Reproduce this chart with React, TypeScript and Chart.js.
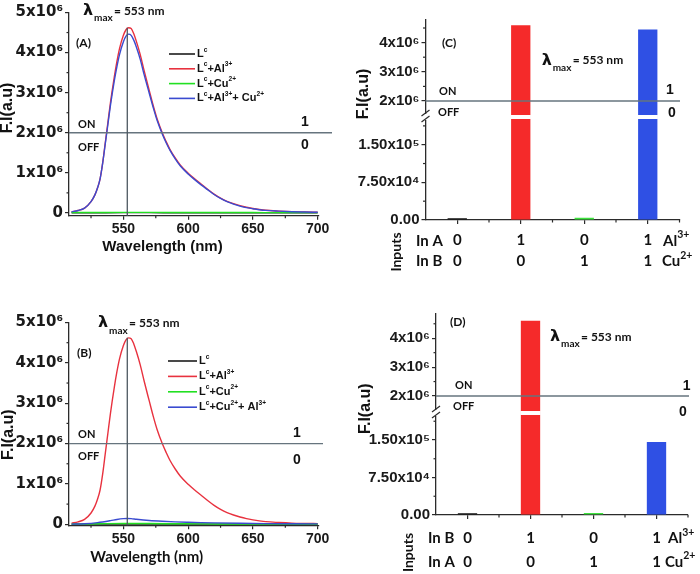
import React, { useEffect, useRef } from 'react';
import { Chart, registerables } from 'chart.js';

Chart.register(...registerables);

const M = 1e6;

// ---------- Panels (A) / (B): emission spectra (intensity in units of 10^6) ----------
const wavelengths = [510, 515, 520, 525, 528, 530, 532, 534, 536, 538, 540, 543, 545, 547, 550, 552, 554, 556, 558, 560, 563, 566, 570, 573, 576, 580, 583, 586, 590, 594, 600, 605, 610, 615, 620, 625, 630, 635, 640, 645, 650, 655, 660, 670, 680, 690, 700];
const lcAlA = [0.03, 0.06, 0.12, 0.28, 0.45, 0.62, 0.85, 1.25, 1.75, 2.25, 2.75, 3.4, 3.78, 4.1, 4.43, 4.57, 4.62, 4.6, 4.47, 4.28, 3.95, 3.55, 3.05, 2.68, 2.35, 2.0, 1.78, 1.58, 1.37, 1.19, 0.99, 0.85, 0.72, 0.59, 0.47, 0.37, 0.29, 0.23, 0.18, 0.14, 0.11, 0.085, 0.065, 0.045, 0.03, 0.022, 0.016];
const lcAlCuA = [0.03, 0.06, 0.12, 0.28, 0.45, 0.62, 0.85, 1.24, 1.72, 2.2, 2.68, 3.3, 3.65, 3.95, 4.27, 4.41, 4.46, 4.43, 4.31, 4.14, 3.83, 3.45, 2.98, 2.63, 2.31, 1.97, 1.75, 1.56, 1.35, 1.17, 0.97, 0.83, 0.7, 0.58, 0.46, 0.36, 0.28, 0.22, 0.17, 0.13, 0.105, 0.08, 0.062, 0.043, 0.029, 0.021, 0.015];
const wlFlat = [510, 530, 550, 570, 590, 610, 630, 650, 670, 690, 700];
const lcA = [0.004, 0.005, 0.006, 0.006, 0.005, 0.005, 0.004, 0.004, 0.004, 0.003, 0.003];
const lcCuA = [0.008, 0.01, 0.012, 0.012, 0.011, 0.01, 0.009, 0.008, 0.007, 0.007, 0.006];

const lcAlB = [0.03, 0.06, 0.12, 0.28, 0.45, 0.62, 0.85, 1.25, 1.75, 2.25, 2.75, 3.4, 3.78, 4.1, 4.43, 4.57, 4.62, 4.6, 4.47, 4.28, 3.95, 3.55, 3.05, 2.68, 2.35, 2.0, 1.78, 1.58, 1.37, 1.19, 0.99, 0.85, 0.72, 0.59, 0.47, 0.37, 0.29, 0.23, 0.18, 0.14, 0.11, 0.085, 0.065, 0.045, 0.03, 0.022, 0.016];
const wlBlueB = [510, 520, 530, 540, 545, 550, 553, 556, 560, 570, 580, 590, 600, 610, 620, 640, 660, 680, 700];
const lcCuAlB = [0.005, 0.012, 0.04, 0.09, 0.12, 0.14, 0.145, 0.14, 0.125, 0.095, 0.075, 0.06, 0.05, 0.042, 0.035, 0.024, 0.016, 0.012, 0.01];
const lcB = [0.003, 0.004, 0.005, 0.005, 0.004, 0.004, 0.004, 0.003, 0.003, 0.003, 0.003];
const lcCuB = [0.005, 0.012, 0.02, 0.018, 0.014, 0.01, 0.008, 0.006, 0.005, 0.004, 0.004];

const legendA = ['L^{c}', 'L^{c}+Al^{3+}', 'L^{c}+Cu^{2+}', 'L^{c}+Al^{3+}+ Cu^{2+}'];
const legendB = ['L^{c}', 'L^{c}+Al^{3+}', 'L^{c}+Cu^{2+}', 'L^{c}+Cu^{2+}+ Al^{3+}'];
const xTickVals = [550, 600, 650, 700];
const xMinorVals = [525, 575, 625, 675];
const yTickVals = [0, 1, 2, 3, 4, 5];
const yMinorVals = [0.5, 1.5, 2.5, 3.5, 4.5];
const threshold = 2;
const lambdaMax = 553;

// ---------- Panels (C) / (D): logic-gate bar outputs ----------
const barValuesC = [3500, 4.59e6, 4500, 4.45e6];
const inAC = [0, 1, 0, 1];
const inBC = [0, 0, 1, 1];
const barValuesD = [3500, 4.6e6, 4000, 1.46e5];
const inBD = [0, 1, 0, 1];
const inAD = [0, 0, 1, 1];
const lowTicks = [0, 7.5e4, 1.5e5];
const lowMinor = [3.75e4, 1.125e5, 1.875e5];
const highTicks = [2e6, 3e6, 4e6];
const highMinor = [2.5e6, 3.5e6, 4.5e6];

// ---------- styles ----------
const COL = { black: '#1c1c1c', red: '#e8323f', green: '#22e022', blue: '#3a4bd0' };
const BAR_COL = ['#111111', '#f52a2a', '#3ee23e', '#2f50e4'];
const AXIS = '#2b2b2b';
const REF = '#66747e';
const ARIAL = "'Liberation Sans', Arial, sans-serif";
const CAL = "Lato, 'Open Sans', sans-serif";
const DJV = "'DejaVu Sans', sans-serif";
const SUP: Record<string, string> = { '0': '⁰', '1': '¹', '2': '²', '3': '³', '4': '⁴', '5': '⁵', '6': '⁶', '7': '⁷', '8': '⁸', '9': '⁹' };

function sci(v: number, dec: number) {
  if (v === 0) return (0).toFixed(dec);
  const e = Math.floor(Math.log10(v) + 1e-9);
  const m = v / Math.pow(10, e);
  return `${m.toFixed(dec)}x10${String(e).split('').map((d) => SUP[d]).join('')}`;
}

function parseRich(s: string) {
  const segs: { t: string; mode: number }[] = [];
  let i = 0;
  let buf = '';
  while (i < s.length) {
    const c = s[i];
    if ((c === '^' || c === '_') && s[i + 1] === '{') {
      if (buf) { segs.push({ t: buf, mode: 0 }); buf = ''; }
      const end = s.indexOf('}', i + 2);
      segs.push({ t: s.slice(i + 2, end), mode: c === '^' ? 1 : 2 });
      i = end + 1;
    } else { buf += c; i++; }
  }
  if (buf) segs.push({ t: buf, mode: 0 });
  return segs;
}

function drawRich(ctx: any, s: string, x: number, y: number, size: number, family: string, align = 'left', supScale = 0.62, color = '#111') {
  const segs = parseRich(s);
  const fontFor = (m: number) => `bold ${m === 0 ? size : size * supScale}px ${family}`;
  let total = 0;
  for (const sg of segs) { ctx.font = fontFor(sg.mode); total += ctx.measureText(sg.t).width; }
  let cx = align === 'center' ? x - total / 2 : align === 'right' ? x - total : x;
  ctx.textBaseline = 'middle';
  ctx.textAlign = 'left';
  ctx.fillStyle = color;
  for (const sg of segs) {
    ctx.font = fontFor(sg.mode);
    const dy = sg.mode === 1 ? -size * 0.38 : sg.mode === 2 ? size * 0.3 : 0;
    ctx.fillText(sg.t, cx, y + dy);
    cx += ctx.measureText(sg.t).width;
  }
}

function seg(ctx: any, x1: number, y1: number, x2: number, y2: number, color: string, w: number) {
  ctx.beginPath();
  ctx.moveTo(x1, y1);
  ctx.lineTo(x2, y2);
  ctx.strokeStyle = color;
  ctx.lineWidth = w;
  ctx.stroke();
}

function txt(ctx: any, s: string, x: number, y: number, font: string, align = 'left', color = '#111') {
  ctx.font = font;
  ctx.textAlign = align;
  ctx.textBaseline = 'middle';
  ctx.fillStyle = color;
  ctx.fillText(s, x, y);
}

function rotTxt(ctx: any, s: string, x: number, y: number, font: string) {
  ctx.save();
  ctx.translate(x, y);
  ctx.rotate(-Math.PI / 2);
  txt(ctx, s, 0, 0, font, 'center');
  ctx.restore();
}

function lambdaLabel(ctx: any, x: number, yc: number) {
  txt(ctx, 'λ', x, yc, `bold 16px ${DJV}`);
  txt(ctx, 'max', x + 11, yc + 7, `bold 10px ${CAL}`);
  txt(ctx, `= ${lambdaMax} nm`, x + 31, yc, `bold 12px ${CAL}`);
}

function pts(xs: number[], ys: number[]) {
  return xs.map((x, i) => ({ x, y: ys[i] * M }));
}

function axisCommon() {
  return {
    grid: { drawOnChartArea: false, tickLength: 4, color: AXIS, lineWidth: 1.2 },
    border: { color: AXIS, width: 1.3 },
  };
}

// ---------- spectrum panel ----------
function spectrumConfig(o: any) {
  return {
    type: 'line',
    data: {
      datasets: o.sets.map((s: any) => ({
        label: s.label, data: pts(s.xs, s.ys), borderColor: s.color, backgroundColor: s.color,
        order: s.order, borderWidth: 1.4, pointRadius: 0, cubicInterpolationMode: 'monotone', fill: false,
      })),
    },
    options: {
      responsive: false, animation: false, events: [],
      layout: { padding: { left: 0, right: 31, top: o.top, bottom: 0 } },
      plugins: { legend: { display: false }, tooltip: { enabled: false } },
      scales: {
        x: {
          type: 'linear', min: 508, max: 701, ...axisCommon(),
          afterBuildTicks: (s: any) => { s.ticks = xTickVals.map((v) => ({ value: v })); },
          afterFit: (s: any) => { s.height = o.h - o.bottom; },
          ticks: { color: '#1a1a1a', font: { family: ARIAL, weight: 'bold', size: 14 }, padding: 1, maxRotation: 0, autoSkip: false },
        },
        y: {
          type: 'linear', min: o.yMin, max: 5 * M, ...axisCommon(),
          afterBuildTicks: (s: any) => { s.ticks = yTickVals.map((v) => ({ value: v * M })); },
          afterFit: (s: any) => { s.width = 69; },
          ticks: { color: '#1a1a1a', font: { family: DJV, weight: 'bold', size: 15 }, padding: 2, autoSkip: false, callback: (v: number) => sci(v, 0) },
        },
      },
    },
    plugins: [{ id: 'decor', afterDraw: (chart: any) => decorSpectrum(chart, o) }],
  };
}

function decorSpectrum(chart: any, o: any) {
  const { ctx, chartArea: ca } = chart;
  const x = chart.scales.x;
  const y = chart.scales.y;
  ctx.save();
  for (const v of yMinorVals) { const py = y.getPixelForValue(v * M); seg(ctx, ca.left - 2.5, py, ca.left, py, AXIS, 1.2); }
  for (const v of xMinorVals) { const px = x.getPixelForValue(v); seg(ctx, px, ca.bottom, px, ca.bottom + 2.5, AXIS, 1.2); }
  const ty = y.getPixelForValue(threshold * M);
  seg(ctx, ca.left, ty, ca.right + o.refExt, ty, REF, 1.3);
  const lx = x.getPixelForValue(lambdaMax);
  seg(ctx, lx, y.getPixelForValue(Math.max(...o.peakSeries) * M), lx, ca.bottom, '#4d5861', 1.3);
  // legend
  chart.data.datasets.forEach((ds: any, i: number) => {
    const ly = o.leg.y0 + i * o.leg.dy;
    seg(ctx, o.leg.x0, ly, o.leg.x1, ly, ds.borderColor, 1.6);
    drawRich(ctx, o.legendLabels[i], o.leg.x1 + 2, ly, 11, ARIAL, 'left', 0.6);
  });
  const t = o.txt;
  txt(ctx, t.panel, t.panelX, t.panelY, `bold 12px ${CAL}`);
  lambdaLabel(ctx, t.lamX, t.lamY);
  txt(ctx, 'ON', t.onX, t.onY, `bold 11px ${CAL}`);
  txt(ctx, 'OFF', t.onX, t.offY, `bold 11px ${CAL}`);
  txt(ctx, '1', t.oneX, t.oneY, `bold 14px ${ARIAL}`, 'center');
  txt(ctx, '0', t.oneX, t.zeroY, `bold 14px ${ARIAL}`, 'center');
  rotTxt(ctx, 'F.I(a.u)', t.fiX, t.fiY, `bold 16px ${ARIAL}`);
  txt(ctx, 'Wavelength (nm)', t.wlX, t.wlY, t.wlFont, 'center');
  ctx.restore();
}

// ---------- bar (logic gate) panel ----------
function barConfig(o: any) {
  const labels = o.row1.map((a: number, i: number) => [String(a), String(o.row2[i])]);
  const common = { backgroundColor: BAR_COL, grouped: false, barPercentage: o.barPct, categoryPercentage: 1, borderWidth: 0 };
  return {
    type: 'bar',
    data: {
      labels,
      datasets: [
        { ...common, yAxisID: 'yBot', data: o.values.map((v: number) => Math.min(v, o.botMax)) },
        { ...common, yAxisID: 'yTop', data: o.values.map((v: number) => (v > o.topMin ? v : null)) },
      ],
    },
    options: {
      responsive: false, animation: false, events: [],
      layout: { padding: { left: 0, right: 350 - o.right, top: o.top, bottom: 0 } },
      plugins: { legend: { display: false }, tooltip: { enabled: false } },
      scales: {
        x: {
          type: 'category', offset: true, ...axisCommon(),
          grid: { drawOnChartArea: false, tickLength: 4, color: AXIS, lineWidth: 1.2, offset: false },
          afterFit: (s: any) => { s.height = o.h - o.bottom; },
          ticks: { color: '#111', font: { family: CAL, weight: 'bold', size: 15, lineHeight: o.rowGap / 15 }, padding: o.tickPad, maxRotation: 0, autoSkip: false },
        },
        yBot: {
          type: 'linear', position: 'left', stack: 'fi', stackWeight: o.bottom - o.split, min: 0, max: o.botMax, ...axisCommon(),
          afterBuildTicks: (s: any) => { s.ticks = lowTicks.map((v) => ({ value: v })); },
          afterFit: (s: any) => { s.width = o.left; },
          ticks: { color: '#1a1a1a', font: { family: ARIAL, weight: 'bold', size: 15 }, padding: 2, autoSkip: false, callback: (v: number) => sci(v, 2) },
        },
        yTop: {
          type: 'linear', position: 'left', stack: 'fi', stackWeight: o.split - o.top, min: o.topMin, max: o.topMax, ...axisCommon(),
          afterBuildTicks: (s: any) => { s.ticks = highTicks.map((v) => ({ value: v })); },
          afterFit: (s: any) => { s.width = o.left; },
          ticks: { color: '#1a1a1a', font: { family: ARIAL, weight: 'bold', size: 15 }, padding: 2, autoSkip: false, callback: (v: number) => sci(v, 0) },
        },
      },
    },
    plugins: [{ id: 'decor', afterDraw: (chart: any) => decorBars(chart, o) }],
  };
}

function decorBars(chart: any, o: any) {
  const { ctx, chartArea: ca } = chart;
  const x = chart.scales.x;
  const yT = chart.scales.yTop;
  const yB = chart.scales.yBot;
  ctx.save();
  for (const v of lowMinor) { const py = yB.getPixelForValue(v); seg(ctx, ca.left - 2.5, py, ca.left, py, AXIS, 1.2); }
  for (const v of highMinor) { const py = yT.getPixelForValue(v); seg(ctx, ca.left - 2.5, py, ca.left, py, AXIS, 1.2); }
  const half = (x.getPixelForValue(1) - x.getPixelForValue(0)) / 2;
  for (let i = 0; i < o.values.length; i++) {
    const px = x.getPixelForValue(i) + half;
    seg(ctx, px, ca.bottom, px, ca.bottom + 2.5, AXIS, 1.2);
  }
  // axis break
  const b = yT.bottom;
  const meta = chart.getDatasetMeta(1);
  meta.data.forEach((el: any, i: number) => {
    if (o.values[i] > o.topMin) {
      const p = el.getProps(['x', 'width'], true);
      ctx.fillStyle = '#fff';
      ctx.fillRect(p.x - p.width / 2 - 0.5, b - 2, p.width + 1, 4);
    }
  });
  ctx.fillStyle = '#fff';
  ctx.fillRect(ca.left - 3, b - 3, 6, 6);
  seg(ctx, ca.left - 4, b - 1, ca.left + 4, b - 7, AXIS, 1.2);
  seg(ctx, ca.left - 4, b + 5, ca.left + 4, b - 1, AXIS, 1.2);
  // threshold
  const ty = yT.getPixelForValue(threshold * M);
  seg(ctx, ca.left, ty, ca.right + o.refExt, ty, REF, 1.3);
  const t = o.txt;
  txt(ctx, t.panel, t.panelX, t.panelY, `bold 12px ${CAL}`);
  lambdaLabel(ctx, t.lamX, t.lamY);
  txt(ctx, 'ON', t.onX, t.onY, `bold 11px ${CAL}`);
  txt(ctx, 'OFF', t.offX, t.offY, `bold 11px ${CAL}`);
  txt(ctx, '1', t.oneX, t.oneY, `bold 14px ${ARIAL}`, 'center');
  txt(ctx, '0', t.zeroX, t.zeroY, `bold 14px ${ARIAL}`, 'center');
  rotTxt(ctx, 'F.I(a.u)', t.fiX, t.fiY, `bold 16px ${ARIAL}`);
  rotTxt(ctx, 'Inputs', t.inpX, t.inpY, `bold 14px ${CAL}`);
  txt(ctx, t.row1Name, t.rowX, t.row1Y, `bold 15px ${CAL}`);
  txt(ctx, t.row2Name, t.rowX, t.row2Y, `bold 15px ${CAL}`);
  drawRich(ctx, 'Al^{3+}', t.alX, t.row1Y, 15, CAL, 'left', 0.7);
  drawRich(ctx, 'Cu^{2+}', t.cuX, t.row2Y, 15, CAL, 'left', 0.7);
  ctx.restore();
}

const configA = () => spectrumConfig({
  h: 280, top: 12.5, bottom: 215.7, yMin: -0.07 * M, refExt: 13, peakSeries: lcAlA, legendLabels: legendA,
  sets: [
    { label: legendA[0], xs: wlFlat, ys: lcA, color: COL.black, order: 4 },
    { label: legendA[1], xs: wavelengths, ys: lcAlA, color: COL.red, order: 3 },
    { label: legendA[2], xs: wlFlat, ys: lcCuA, color: COL.green, order: 2 },
    { label: legendA[3], xs: wavelengths, ys: lcAlCuA, color: COL.blue, order: 1 },
  ],
  leg: { x0: 169, x1: 195, y0: 54, dy: 14.8 },
  txt: { panel: '(A)', panelX: 76, panelY: 43, lamX: 83, lamY: 11, onX: 78, onY: 124, offY: 147, oneX: 305, oneY: 122, zeroY: 145, fiX: 8, fiY: 108, wlX: 162.5, wlY: 247, wlFont: `bold 15px ${ARIAL}` },
});

const configB = () => spectrumConfig({
  h: 294, top: 42.5, bottom: 245.3, yMin: -0.025 * M, refExt: 4, peakSeries: lcAlB, legendLabels: legendB,
  sets: [
    { label: legendB[0], xs: wlFlat, ys: lcB, color: COL.black, order: 4 },
    { label: legendB[1], xs: wavelengths, ys: lcAlB, color: COL.red, order: 3 },
    { label: legendB[2], xs: wlFlat, ys: lcCuB, color: COL.green, order: 2 },
    { label: legendB[3], xs: wlBlueB, ys: lcCuAlB, color: COL.blue, order: 1 },
  ],
  leg: { x0: 168, x1: 197, y0: 81, dy: 15.4 },
  txt: { panel: '(B)', panelX: 77, panelY: 72.7, lamX: 98, lamY: 43.3, onX: 78, onY: 154, offY: 176, oneX: 297, oneY: 153, zeroY: 180, fiX: 8.5, fiY: 154.7, wlX: 146.7, wlY: 277.3, wlFont: `bold 15px ${CAL}` },
});

const configC = () => barConfig({
  h: 280, top: 20, split: 117, bottom: 220, left: 75.5, right: 329.5,
  topMin: 1.452e6, topMax: 4.774e6, botMax: 2.052e5, barPct: 0.304, values: barValuesC,
  row1: inAC, row2: inBC, rowGap: 20.5, tickPad: 6.4, refExt: 0.5,
  txt: { panel: '(C)', panelX: 92, panelY: 43.3, lamX: 191.7, lamY: 60.5, onX: 89, onY: 91.7, offX: 88, offY: 112.7, oneX: 320, oneY: 90, zeroX: 322, zeroY: 113, fiX: 14, fiY: 94, inpX: 46.7, inpY: 252, rowX: 66, row1Name: 'In A', row2Name: 'In B', row1Y: 240.7, row2Y: 261, alX: 313, cuX: 312 },
});

const configD = () => barConfig({
  h: 294, top: 33.3, split: 133, bottom: 235, left: 86, right: 338,
  topMin: 1.412e6, topMax: 4.862e6, botMax: 2.04e5, barPct: 0.307, values: barValuesD,
  row1: inBD, row2: inAD, rowGap: 23.4, tickPad: 7.6, refExt: 1,
  txt: { panel: '(D)', panelX: 100, panelY: 41.7, lamX: 200, lamY: 56.7, onX: 105, onY: 105, offX: 103, offY: 126.7, oneX: 336.7, oneY: 106, zeroX: 333, zeroY: 131.7, fiX: 16, fiY: 128.7, inpX: 58, inpY: 272.5, rowX: 78, row1Name: 'In B', row2Name: 'In A', row1Y: 258.3, row2Y: 281.7, alX: 318, cuX: 315 },
});

function ChartBox({ x, y, w, h, make }: { x: number; y: number; w: number; h: number; make: () => any }) {
  const ref = useRef<HTMLCanvasElement>(null);
  useEffect(() => {
    const chart = new Chart(ref.current as HTMLCanvasElement, make());
    return () => chart.destroy();
  }, []);
  return <canvas ref={ref} width={w} height={h} style={{ position: 'absolute', left: x, top: y, width: w, height: h }} />;
}

export default function App() {
  return (
    <div style={{ position: 'fixed', left: 0, top: 0, width: 700, height: 574, background: '#fff', overflow: 'hidden' }}>
      <ChartBox x={0} y={0} w={350} h={280} make={configA} />
      <ChartBox x={350} y={0} w={350} h={280} make={configC} />
      <ChartBox x={0} y={280} w={350} h={294} make={configB} />
      <ChartBox x={350} y={280} w={350} h={294} make={configD} />
    </div>
  );
}
